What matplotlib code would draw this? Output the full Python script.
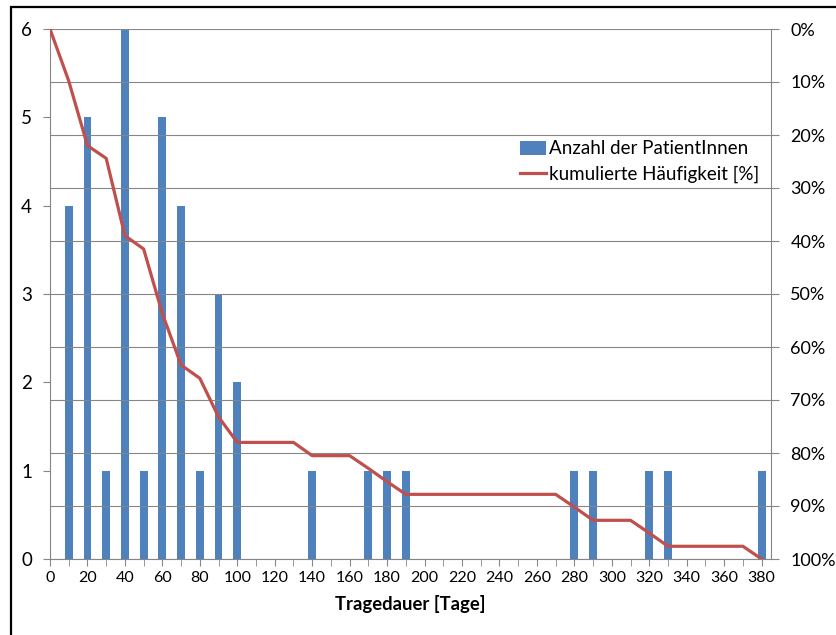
import matplotlib.pyplot as plt
from matplotlib.patches import Rectangle
from matplotlib.ticker import MultipleLocator, FuncFormatter

# Tragedauer in Tagen (Kategorien) und Anzahl der PatientInnen
bar_days = [10, 20, 30, 40, 50, 60, 70, 80, 90, 100, 140, 170, 180, 190, 280, 290, 320, 330, 380]
bar_counts = [4, 5, 1, 6, 1, 5, 4, 1, 3, 2, 1, 1, 1, 1, 1, 1, 1, 1, 1]

# kumulierte Häufigkeit [%] für jede Kategorie 0..380
line_days = list(range(0, 390, 10))
line_cum = [0.0, 9.8, 22.0, 24.4, 39.0, 41.5, 53.7, 63.4, 65.9, 73.2,
            78.0, 78.0, 78.0, 78.0, 80.5, 80.5, 80.5, 82.9, 85.4, 87.8,
            87.8, 87.8, 87.8, 87.8, 87.8, 87.8, 87.8, 87.8, 90.2, 92.7,
            92.7, 92.7, 95.1, 97.6, 97.6, 97.6, 97.6, 97.6, 100.0]

BLUE = '#4F81BD'
RED = '#C0504D'
GRAY = '#868686'

plt.rcParams['font.family'] = ['Lato', 'DejaVu Sans']

fig = plt.figure(figsize=(8.37, 6.35), dpi=100)
W, H = 837, 635
ax = fig.add_axes([50 / W, 1 - 559 / H, (771 - 50) / W, (559 - 29) / H])
ax2 = ax.twinx()

# outer frame (only left and top edge fall inside the image)
fig.patches.append(Rectangle((11 / W, -0.05), 1.0, 1.05 - 7 / H,
                             transform=fig.transFigure, fill=False,
                             edgecolor='black', linewidth=1.6))

bars = ax.bar(bar_days, bar_counts, width=4.2, color=BLUE, zorder=3,
              label='Anzahl der PatientInnen')
line, = ax2.plot(line_days, line_cum, color=RED, linewidth=2.3, zorder=4,
                 label='kumulierte Häufigkeit [%]')
ax.set_zorder(ax2.get_zorder() - 1)
ax.patch.set_visible(False)
ax2.set_zorder(1)

ax.set_xlim(0, 385)
ax.set_ylim(0, 6)
ax2.set_ylim(100, 0)

ax.yaxis.set_major_locator(MultipleLocator(1))
ax2.yaxis.set_major_locator(MultipleLocator(10))
ax2.yaxis.set_major_formatter(FuncFormatter(lambda v, p: f'{int(round(v))}%'))
ax2.grid(axis='y', color=GRAY, linewidth=0.8, zorder=0)

ax.set_xticks(range(0, 390, 20))
ax.set_xticks(range(0, 390, 10), minor=True)
ax.tick_params(axis='x', which='both', length=5, color=GRAY, labelsize=11.5, pad=4)
ax.tick_params(axis='y', length=5, color=GRAY, labelsize=13.5, pad=8)
ax2.tick_params(axis='y', length=6, color=GRAY, labelsize=13, pad=8)

for a in (ax, ax2):
    a.spines['top'].set_visible(False)
    for s in ('left', 'right', 'bottom'):
        a.spines[s].set_color(GRAY)
ax2.spines['left'].set_visible(False)
ax2.spines['bottom'].set_visible(False)
ax.spines['right'].set_visible(False)

ax.set_xlabel('Tragedauer [Tage]', fontsize=13.3, fontweight='bold', labelpad=7)

leg = ax2.legend([bars, line], ['Anzahl der PatientInnen', 'kumulierte Häufigkeit [%]'],
                 loc='upper left', bbox_to_anchor=((512 - 50) / (771 - 50), 1 - (133 - 29) / (559 - 29)),
                 frameon=False, fontsize=13.5, handlelength=1.4, handletextpad=0.15,
                 labelspacing=0.45, borderaxespad=0)

fig.savefig('out.png', dpi=100)
